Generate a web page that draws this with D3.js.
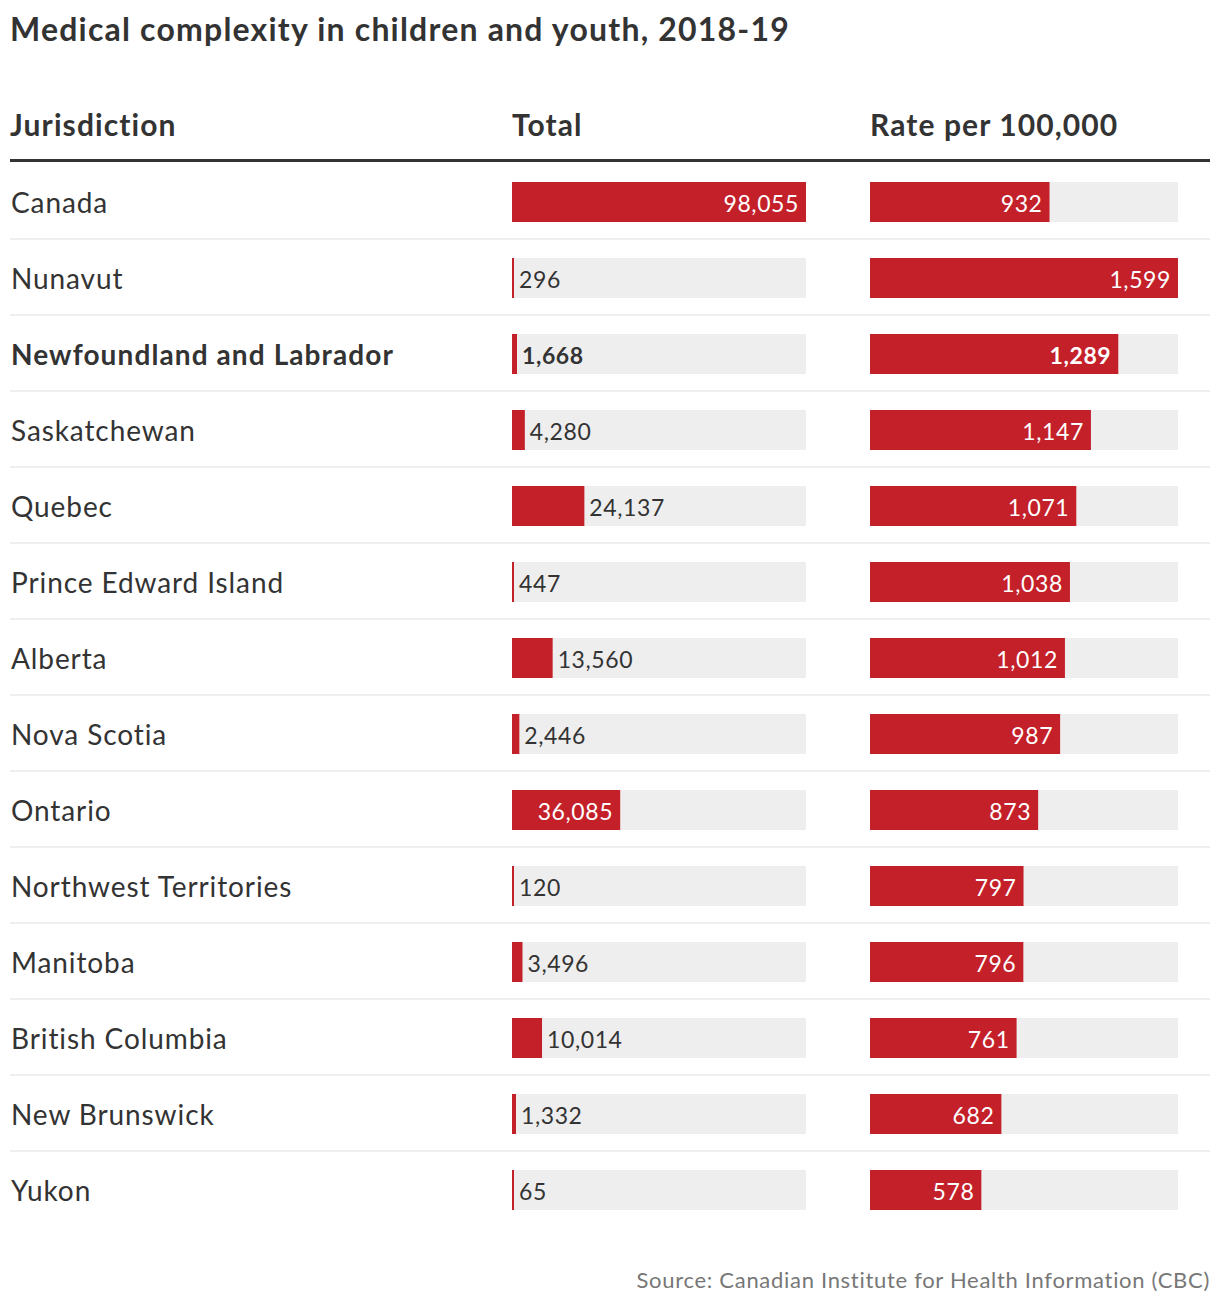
<!DOCTYPE html>
<html>
<head>
<meta charset="utf-8">
<script src="https://cdn.jsdelivr.net/npm/d3@7"></script>
<style>
  body { margin: 0; background: #fff; }
  text { font-family: "Source Sans Pro", Lato, "Noto Sans", sans-serif; }
</style>
</head>
<body>
<div id="chart"></div>
<script>
// data
var jurisdictions = ["Canada", "Nunavut", "Newfoundland and Labrador", "Saskatchewan", "Quebec",
  "Prince Edward Island", "Alberta", "Nova Scotia", "Ontario", "Northwest Territories",
  "Manitoba", "British Columbia", "New Brunswick", "Yukon"];
var totals = [98055, 296, 1668, 4280, 24137, 447, 13560, 2446, 36085, 120, 3496, 10014, 1332, 65];
var rates = [932, 1599, 1289, 1147, 1071, 1038, 1012, 987, 873, 797, 796, 761, 682, 578];
var highlight = "Newfoundland and Labrador";

const w = 1220, h = 1302;
const red = "#c4202a", grey = "#eeeeee", ink = "#333333";
const fmt = d3.format(",");

const svg = d3.select("#chart").append("svg")
  .attr("width", w)
  .attr("height", h);

// title
svg.append("text")
  .attr("x", 10).attr("y", 41)
  .attr("font-size", 32).attr("font-weight", "bold").attr("fill", ink)
  .attr("letter-spacing", 1.2)
  .text("Medical complexity in children and youth, 2018-19");

// headers
var headers = [["Jurisdiction", 10], ["Total", 512], ["Rate per 100,000", 870]];
svg.selectAll(".hdr").data(headers).enter().append("text")
  .attr("class", "hdr")
  .attr("x", d => d[1]).attr("y", 136)
  .attr("font-size", 30).attr("font-weight", "bold").attr("fill", ink)
  .attr("letter-spacing", 1.1)
  .text(d => d[0]);

svg.append("rect")
  .attr("x", 10).attr("y", 159).attr("width", 1200).attr("height", 3)
  .attr("fill", ink);

// row scale
const yScale = d3.scaleBand()
  .domain(jurisdictions)
  .range([164, 164 + 76 * jurisdictions.length])
  .paddingInner(0);

// columns
var cols = [
  { values: totals, x0: 512, x1: 806 },
  { values: rates, x0: 870, x1: 1178 }
];

var rows = svg.selectAll(".row").data(jurisdictions).enter().append("g")
  .attr("class", "row")
  .attr("transform", d => "translate(0," + yScale(d) + ")");

// separators
rows.filter((d, i) => i < jurisdictions.length - 1).append("rect")
  .attr("x", 10).attr("y", 74).attr("width", 1200).attr("height", 2)
  .attr("fill", grey);

rows.append("text")
  .attr("x", 11).attr("y", 49)
  .attr("font-size", 28)
  .attr("letter-spacing", d => d === highlight ? 1.1 : 0.9)
  .attr("font-weight", d => d === highlight ? "bold" : "normal")
  .attr("fill", ink)
  .text(d => d);

cols.forEach(function(col) {
  const xScale = d3.scaleLinear()
    .domain([0, d3.max(col.values)])
    .range([col.x0, col.x1]);

  rows.append("rect")
    .attr("x", col.x0).attr("y", 18)
    .attr("width", col.x1 - col.x0).attr("height", 40)
    .attr("fill", grey);

  rows.append("rect")
    .attr("x", col.x0).attr("y", 18)
    .attr("width", (d, i) => Math.max(2, xScale(col.values[i]) - col.x0))
    .attr("height", 40)
    .attr("fill", red);

  rows.append("text")
    .attr("y", 48)
    .attr("font-size", 23)
    .attr("letter-spacing", 0.6)
    .attr("font-weight", d => d === highlight ? "bold" : "normal")
    .text((d, i) => fmt(col.values[i]))
    .each(function(d, i) {
      var barW = xScale(col.values[i]) - col.x0;
      var tw = this.getComputedTextLength();
      var t = d3.select(this);
      if (barW > tw + 14) {
        t.attr("x", xScale(col.values[i]) - 7).attr("text-anchor", "end").attr("fill", "#fff");
      } else {
        t.attr("x", col.x0 + Math.max(2, barW) + 5).attr("text-anchor", "start").attr("fill", ink);
      }
    });
});

// source
svg.append("text")
  .attr("x", 1210).attr("y", 1288)
  .attr("text-anchor", "end")
  .attr("font-size", 22).attr("fill", "#777")
  .attr("letter-spacing", 0.7)
  .text("Source: Canadian Institute for Health Information (CBC)");
</script>
</body>
</html>
